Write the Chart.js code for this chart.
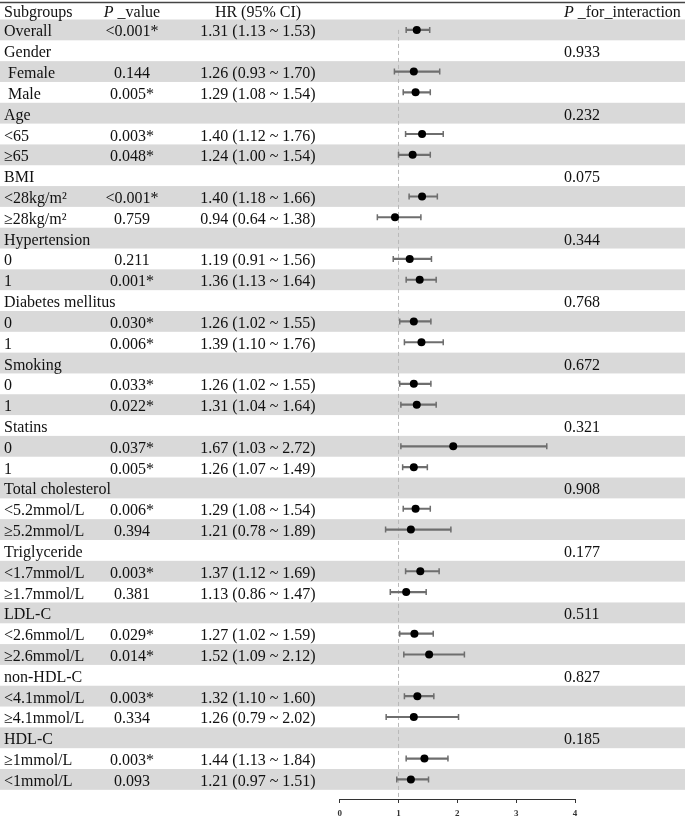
<!DOCTYPE html>
<html>
<head>
<meta charset="utf-8">
<title>Subgroup forest plot</title>
<script src="https://cdn.jsdelivr.net/npm/chart.js@4.4.1/dist/chart.umd.min.js"></script>
<style>
  html, body { margin: 0; padding: 0; background: #fff; overflow: hidden; }
  /* canvas is a touch taller than the window so the axis labels can sit low */
  #wrap { position: relative; width: 685px; height: 824px; }
</style>
</head>
<body>
<div id="wrap"><canvas id="forest"></canvas></div>
<script>
'use strict';

/* ─── Data ──────────────────────────────────────────────────── */
const subgroups = [
  'Overall', 'Gender', ' Female', ' Male', 'Age', '<65', '≥65',
  'BMI', '<28kg/m²', '≥28kg/m²', 'Hypertension', '0', '1',
  'Diabetes mellitus', '0', '1', 'Smoking', '0', '1',
  'Statins', '0', '1', 'Total cholesterol', '<5.2mmol/L', '≥5.2mmol/L',
  'Triglyceride', '<1.7mmol/L', '≥1.7mmol/L', 'LDL-C', '<2.6mmol/L', '≥2.6mmol/L',
  'non-HDL-C', '<4.1mmol/L', '≥4.1mmol/L', 'HDL-C', '≥1mmol/L', '<1mmol/L'
];

const pValues = [
  '<0.001*', '', '0.144', '0.005*', '', '0.003*', '0.048*',
  '', '<0.001*', '0.759', '', '0.211', '0.001*',
  '', '0.030*', '0.006*', '', '0.033*', '0.022*',
  '', '0.037*', '0.005*', '', '0.006*', '0.394',
  '', '0.003*', '0.381', '', '0.029*', '0.014*',
  '', '0.003*', '0.334', '', '0.003*', '0.093'
];

const hrText = [
  '1.31 (1.13 ~ 1.53)', '', '1.26 (0.93 ~ 1.70)', '1.29 (1.08 ~ 1.54)', '', '1.40 (1.12 ~ 1.76)', '1.24 (1.00 ~ 1.54)',
  '', '1.40 (1.18 ~ 1.66)', '0.94 (0.64 ~ 1.38)', '', '1.19 (0.91 ~ 1.56)', '1.36 (1.13 ~ 1.64)',
  '', '1.26 (1.02 ~ 1.55)', '1.39 (1.10 ~ 1.76)', '', '1.26 (1.02 ~ 1.55)', '1.31 (1.04 ~ 1.64)',
  '', '1.67 (1.03 ~ 2.72)', '1.26 (1.07 ~ 1.49)', '', '1.29 (1.08 ~ 1.54)', '1.21 (0.78 ~ 1.89)',
  '', '1.37 (1.12 ~ 1.69)', '1.13 (0.86 ~ 1.47)', '', '1.27 (1.02 ~ 1.59)', '1.52 (1.09 ~ 2.12)',
  '', '1.32 (1.10 ~ 1.60)', '1.26 (0.79 ~ 2.02)', '', '1.44 (1.13 ~ 1.84)', '1.21 (0.97 ~ 1.51)'
];

const pInteraction = [
  '', '0.933', '', '', '0.232', '', '',
  '0.075', '', '', '0.344', '', '',
  '0.768', '', '', '0.672', '', '',
  '0.321', '', '', '0.908', '', '',
  '0.177', '', '', '0.511', '', '',
  '0.827', '', '', '0.185', '', ''
];

// plotted marks, as drawn in the figure (null = heading row)
const hrPoint = [
  1.31, null, 1.26, 1.29, null, 1.40, 1.24,
  null, 1.40, 0.94, null, 1.19, 1.36,
  null, 1.26, 1.39, null, 1.26, 1.31,
  null, 1.93, 1.26, null, 1.29, 1.21,
  null, 1.37, 1.13, null, 1.27, 1.52,
  null, 1.32, 1.26, null, 1.44, 1.21
];
const ciLow = [
  1.13, null, 0.93, 1.08, null, 1.12, 1.00,
  null, 1.18, 0.64, null, 0.91, 1.13,
  null, 1.02, 1.10, null, 1.02, 1.04,
  null, 1.04, 1.07, null, 1.08, 0.78,
  null, 1.12, 0.86, null, 1.02, 1.09,
  null, 1.10, 0.79, null, 1.13, 0.97
];
const ciHigh = [
  1.53, null, 1.70, 1.54, null, 1.76, 1.54,
  null, 1.66, 1.38, null, 1.56, 1.64,
  null, 1.55, 1.76, null, 1.55, 1.64,
  null, 3.52, 1.49, null, 1.54, 1.89,
  null, 1.69, 1.47, null, 1.59, 2.12,
  null, 1.60, 2.02, null, 1.84, 1.51
];

const xTicks = [0, 1, 2, 3, 4];
const refLine = 1;

/* ─── Layout / style ────────────────────────────────────────── */
const Y_MAX   = 36.94;          // a little room under the last row for the axis
const BAND    = '#d9d9d9';
const INK     = '#111';
const CI_GREY = '#6e6e6e';
const SERIF   = '"Liberation Serif", "Times New Roman", serif';
const COL_P   = 132;            // centre of P_value column
const COL_HR  = 258;            // centre of HR column
const COL_INT = 564;            // left of P_for_interaction column

const rows = subgroups.map((_, i) => i).filter(i => hrPoint[i] !== null);

/* ─── Table plugin: bands, rule and text ────────────────────── */
const tablePlugin = {
  id: 'forestTable',
  beforeDraw(chart) {
    const { ctx, scales: { y } } = chart;
    ctx.save();
    ctx.fillStyle = BAND;
    subgroups.forEach((_, i) => {
      if (i % 2) return;
      const top = y.getPixelForValue(i - 0.5);
      const bot = y.getPixelForValue(i + 0.5);
      ctx.fillRect(0, top, chart.width, bot - top);
    });
    ctx.strokeStyle = '#444';
    ctx.lineWidth = 1.5;
    ctx.beginPath();
    ctx.moveTo(0, 2.5);
    ctx.lineTo(chart.width, 2.5);
    ctx.stroke();
    ctx.restore();
  },
  afterDraw(chart) {
    const { ctx, scales: { y } } = chart;
    const normal = `16px ${SERIF}`;
    const italic = `italic 16px ${SERIF}`;
    ctx.save();
    ctx.fillStyle = INK;
    ctx.textBaseline = 'alphabetic';

    // header
    const hy = 17;
    ctx.font = normal;
    ctx.textAlign = 'left';
    ctx.fillText('Subgroups', 4, hy);
    ctx.textAlign = 'center';
    ctx.fillText('HR (95% CI)', COL_HR, hy);

    ctx.textAlign = 'left';
    ctx.font = italic;
    const wP = ctx.measureText('P').width;
    ctx.font = normal;
    const wRest = ctx.measureText(' _value').width;
    const x0 = COL_P - (wP + wRest) / 2;
    ctx.font = italic;
    ctx.fillText('P', x0, hy);
    ctx.font = normal;
    ctx.fillText(' _value', x0 + wP, hy);

    ctx.font = italic;
    ctx.fillText('P', COL_INT, hy);
    ctx.font = normal;
    ctx.fillText(' _for_interaction', COL_INT + wP, hy);

    // rows
    ctx.font = normal;
    subgroups.forEach((label, i) => {
      const by = y.getPixelForValue(i) + 6.5;
      ctx.textAlign = 'left';
      ctx.fillText(label, 4, by);
      if (pInteraction[i]) ctx.fillText(pInteraction[i], COL_INT, by);
      ctx.textAlign = 'center';
      if (pValues[i]) ctx.fillText(pValues[i], COL_P, by);
      if (hrText[i]) ctx.fillText(hrText[i], COL_HR, by);
    });
    ctx.restore();
  }
};

/* ─── Chart ─────────────────────────────────────────────────── */
new Chart(document.getElementById('forest'), {
  type: 'scatter',
  data: {
    datasets: [
      {
        type: 'scatter',
        label: 'HR',
        data: rows.map(i => ({ x: hrPoint[i], y: i })),
        pointRadius: 4,
        pointHoverRadius: 4,
        backgroundColor: '#000',
        borderColor: '#000',
        borderWidth: 0,
        order: 0
      },
      {
        type: 'scatter',
        label: 'CI caps',
        data: rows.flatMap(i => [{ x: ciLow[i], y: i }, { x: ciHigh[i], y: i }]),
        pointStyle: 'line',
        rotation: 90,
        pointRadius: 3,
        pointHoverRadius: 3,
        borderColor: CI_GREY,
        borderWidth: 1.5,
        order: 1
      },
      {
        type: 'bar',
        label: '95% CI',
        indexAxis: 'y',
        data: rows.map(i => ({ x: [ciLow[i], ciHigh[i]], y: i })),
        barThickness: 1.5,
        backgroundColor: CI_GREY,
        borderWidth: 0,
        order: 2
      },
      {
        type: 'line',
        label: 'HR = 1',
        data: [{ x: refLine, y: 0 }, { x: refLine, y: Y_MAX }],
        borderColor: '#b8b8b8',
        borderWidth: 1,
        borderDash: [4, 3],
        pointRadius: 0,
        fill: false,
        order: 3
      }
    ]
  },
  options: {
    responsive: true,
    maintainAspectRatio: false,
    animation: false,
    layout: { padding: { left: 339.7, right: 110, top: 19.5, bottom: 0 } },
    plugins: {
      legend: { display: false },
      tooltip: { enabled: false }
    },
    scales: {
      x: {
        type: 'linear',
        min: 0,
        max: 4,
        offset: false,
        afterBuildTicks: scale => { scale.ticks = xTicks.map(v => ({ value: v })); },
        grid: {
          display: true,
          drawOnChartArea: false,
          drawTicks: true,
          tickLength: 4,
          color: '#333',
          lineWidth: 1,
          offset: false
        },
        border: { display: true, color: '#333', width: 1 },
        ticks: {
          color: '#333',
          padding: 6,
          font: { family: SERIF, size: 9, weight: 'bold', lineHeight: 1 }
        }
      },
      y: {
        type: 'linear',
        display: false,
        reverse: true,
        min: -0.5,
        max: Y_MAX,
        offset: false,
        grid: { offset: false }
      }
    }
  },
  plugins: [tablePlugin]
});
</script>
</body>
</html>
